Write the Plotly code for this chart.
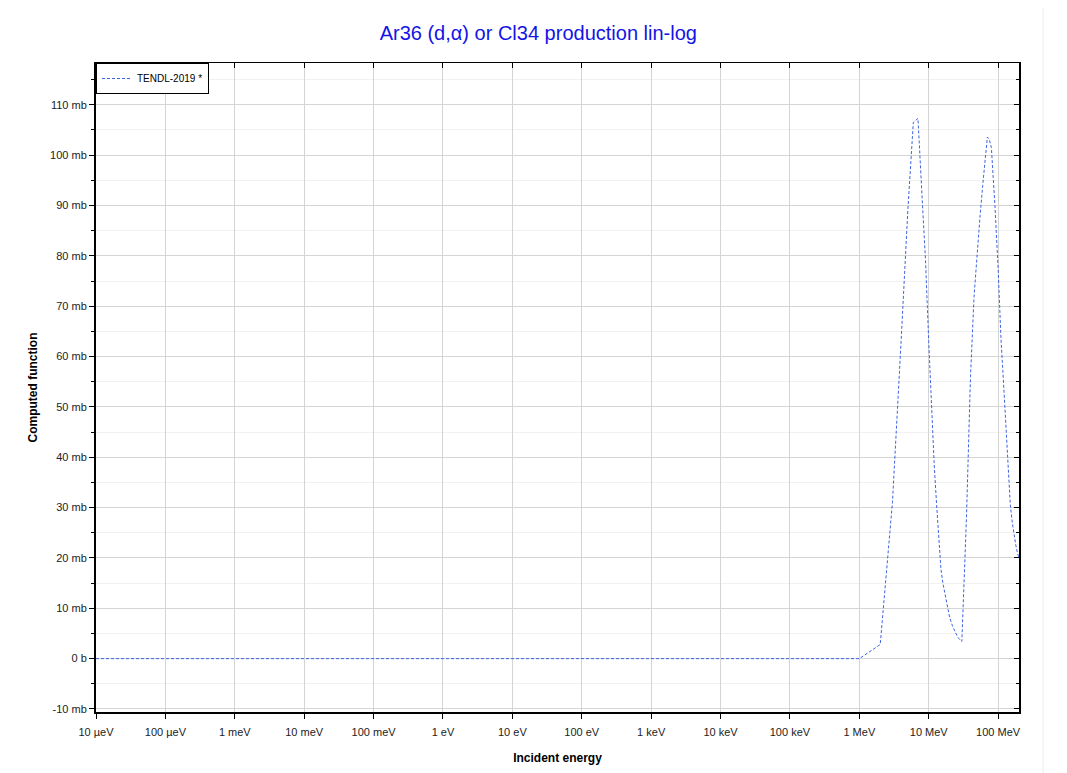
import plotly.graph_objects as go

# Incident energy (eV) and cross section (mb)
energy_eV = [1e-5, 1e-4, 1e-3, 1e-2, 1e-1, 1, 10, 100, 1e3, 1e4, 1e5, 1e6,
             2e6, 3e6, 4e6, 5e6, 6e6, 7e6, 8e6, 9e6, 10e6, 11e6, 12e6, 13e6,
             14e6, 15e6, 16e6, 17e6, 18e6, 19e6, 20e6, 22e6, 24e6, 25e6,
             26e6, 28e6, 30e6, 35e6, 40e6, 45e6, 50e6, 55e6, 60e6, 65e6,
             70e6, 75e6, 80e6, 85e6, 90e6, 100e6, 110e6, 120e6, 130e6,
             140e6, 150e6, 160e6, 170e6, 180e6, 190e6, 200e6]
xs_mb = [0, 0, 0, 0, 0, 0, 0, 0, 0, 0, 0, 0,
         2.8, 31, 63, 89, 106.5, 107.3, 92, 79, 63, 49, 38.5, 30.5,
         23, 17.8, 15, 13, 11.5, 9.5, 8.2, 6.5, 5.2, 4.7,
         4.3, 3.8, 3.4, 28, 56, 72, 81, 88, 94, 99.5,
         103.6, 103, 101.5, 95.5, 90, 77.5, 63.5, 54.5, 46,
         38, 30.5, 27, 24.5, 22.5, 21, 20]

x_tickvals = [1e-5, 1e-4, 1e-3, 1e-2, 1e-1, 1, 10, 100, 1e3, 1e4, 1e5, 1e6, 1e7, 1e8]
x_ticktext = ["10 µeV", "100 µeV", "1 meV", "10 meV", "100 meV", "1 eV", "10 eV",
              "100 eV", "1 keV", "10 keV", "100 keV", "1 MeV", "10 MeV", "100 MeV"]
y_tickvals = [-10, 0, 10, 20, 30, 40, 50, 60, 70, 80, 90, 100, 110]
y_ticktext = ["-10 mb", "0 b", "10 mb", "20 mb", "30 mb", "40 mb", "50 mb",
              "60 mb", "70 mb", "80 mb", "90 mb", "100 mb", "110 mb"]

xrange = [-5, 8.301]
yrange = [-10.6, 118.3]

fig = go.Figure()
fig.add_trace(go.Scatter(
    x=energy_eV, y=xs_mb, mode="lines", name="TENDL-2019 *",
    line=dict(color="#3d63e0", width=1, dash="3px,2px"),
))
# invisible trace for mirrored inner ticks
fig.add_trace(go.Scatter(x=[1e-5], y=[0], xaxis="x2", yaxis="y2",
                         mode="markers", marker=dict(opacity=0),
                         showlegend=False, hoverinfo="skip"))

fig.update_layout(
    width=1067, height=773,
    margin=dict(l=88, r=56, t=55, b=69),
    paper_bgcolor="white", plot_bgcolor="white",
    font=dict(family="Arial, Liberation Sans, sans-serif", size=11, color="#222"),
    title=dict(text="Ar36 (d,α) or Cl34 production lin-log", x=0.497, xanchor="center",
               y=(773 - 25) / 773, yanchor="middle",
               font=dict(size=20, color="#1414e6")),
    xaxis=dict(type="log", range=xrange, tickvals=x_tickvals, ticktext=x_ticktext,
               showgrid=True, gridcolor="#d4d4d4", gridwidth=1,
               showline=True, linecolor="black", linewidth=2,
               ticks="outside", ticklen=5, tickcolor="black",
               ticklabelstandoff=4,
               zeroline=False,
               title=dict(text="<b>Incident energy</b>", font=dict(size=12, color="black"),
                          standoff=16)),
    yaxis=dict(range=yrange, tickvals=y_tickvals, ticktext=y_ticktext,
               showgrid=True, gridcolor="#d4d4d4", gridwidth=1,
               showline=True, linecolor="black", linewidth=2,
               ticks="outside", ticklen=5, tickcolor="black",
               zeroline=False,
               minor=dict(dtick=5, tick0=0, showgrid=True, gridcolor="#f1f1f1",
                          ticks="outside", ticklen=3, tickcolor="black"),
               title=dict(text="<b>Computed function</b>", font=dict(size=12, color="black"),
                          standoff=10)),
    xaxis2=dict(type="log", range=xrange, overlaying="x", side="top",
                tickvals=x_tickvals, showticklabels=False, showgrid=False,
                showline=True, linecolor="black", linewidth=1,
                ticks="inside", ticklen=5, tickcolor="black", zeroline=False),
    yaxis2=dict(range=yrange, overlaying="y", side="right",
                tickvals=y_tickvals, showticklabels=False, showgrid=False,
                showline=True, linecolor="black", linewidth=2,
                ticks="inside", ticklen=5, tickcolor="black", zeroline=False,
                minor=dict(dtick=5, tick0=0, ticks="inside", ticklen=3, tickcolor="black")),
    legend=dict(x=0, y=1, xanchor="left", yanchor="top",
                bordercolor="black", borderwidth=1, bgcolor="white",
                font=dict(size=10, color="black"),
                itemwidth=30, tracegroupgap=0),
    showlegend=True,
    shapes=[dict(type="rect", xref="paper", yref="paper",
                 x0=-0.2, x1=(1035 - 88) / 923, y0=-0.2, y1=1.2,
                 line=dict(color="#ececec", width=1), layer="below")],
)

fig.write_html("out.html")
